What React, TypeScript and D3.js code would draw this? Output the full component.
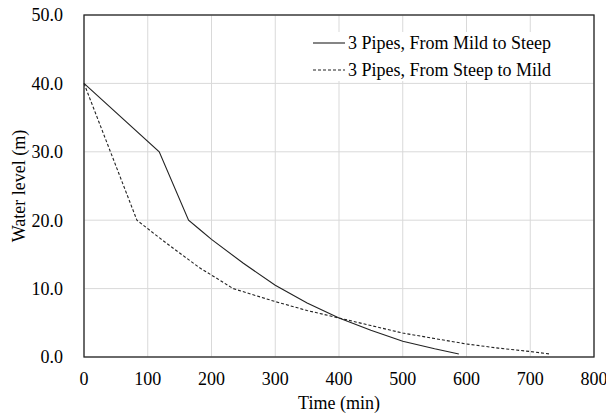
import React from 'react';
import * as d3 from 'd3';

// time (min) / water level (m)
const mildToSteepT = [0, 118, 164, 182, 200, 250, 300, 350, 400, 450, 500, 550, 588];
const mildToSteepH = [40, 30, 20, 18.6, 17.2, 13.7, 10.5, 7.9, 5.7, 3.9, 2.3, 1.2, 0.45];

const steepToMildT = [0, 83, 120, 150, 182, 210, 234, 300, 350, 400, 450, 500, 550, 600, 650, 700, 730];
const steepToMildH = [40, 20, 17.3, 15.2, 13.0, 11.4, 10, 8.1, 6.8, 5.7, 4.6, 3.5, 2.7, 1.9, 1.3, 0.8, 0.45];

const xTicks = [0, 100, 200, 300, 400, 500, 600, 700, 800];
const yTicks = [0, 10, 20, 30, 40, 50];

const seriesNames = ['3 Pipes, From Mild to Steep', '3 Pipes, From Steep to Mild'];

const W = 606;
const H = 416;
const margin = { top: 15, right: 12, bottom: 59, left: 84 };
const FONT = 'Times New Roman';
const txt = { fontFamily: `'${FONT}'`, fontSize: '18px' };

const x = d3.scaleLinear().domain([0, 800]).range([margin.left, W - margin.right]);
const y = d3.scaleLinear().domain([0, 50]).range([H - margin.bottom, margin.top]);

const line = d3.line<[number, number]>()
  .x((d) => x(d[0]))
  .y((d) => y(d[1]));

const Label = (props: any) => <text fontFamily={FONT} style={txt} {...props} />;

const App = () => {
  const series = [d3.zip(mildToSteepT, mildToSteepH), d3.zip(steepToMildT, steepToMildH)];
  return (
    <svg width={W} height={H} style={{ position: 'absolute', left: 0, top: 0, background: 'white' }}>
      {/* grid */}
      {xTicks.map((t) => (
        <line key={`gx${t}`} x1={x(t)} x2={x(t)} y1={y(0)} y2={y(50)} stroke="#d9d9d9" />
      ))}
      {yTicks.map((t) => (
        <line key={`gy${t}`} x1={x(0)} x2={x(800)} y1={y(t)} y2={y(t)} stroke="#d9d9d9" />
      ))}

      {/* tick labels */}
      {yTicks.map((t) => (
        <Label key={`ly${t}`} x={x(0) - 21} y={y(t)} dy="0.35em" textAnchor="end">
          {d3.format('.1f')(t)}
        </Label>
      ))}
      {xTicks.map((t) => (
        <Label key={`lx${t}`} x={x(t)} y={y(0) + 28} textAnchor="middle">
          {String(t)}
        </Label>
      ))}

      {/* axis titles */}
      <Label x={(x(0) + x(800)) / 2} y={y(0) + 52} textAnchor="middle">
        Time (min)
      </Label>
      <Label transform={`translate(24.5, ${(y(0) + y(50)) / 2}) rotate(-90)`} textAnchor="middle">
        Water level (m)
      </Label>

      {series.map((s, i) => (
        <path
          key={seriesNames[i]}
          d={line(s) || ''}
          fill="none"
          stroke="#222"
          strokeWidth={1.1}
          strokeDasharray={i === 1 ? '3,2' : undefined}
        />
      ))}

      {/* frame */}
      <rect
        x={x(0)}
        y={y(50)}
        width={x(800) - x(0)}
        height={y(0) - y(50)}
        fill="none"
        stroke="#262626"
        strokeWidth={1.3}
      />

      {/* legend */}
      <rect x={306} y={32} width={268} height={49} fill="white" />
      {seriesNames.map((name, i) => {
        const ly = 43 + i * 27;
        return (
          <g key={name}>
            <line
              x1={313}
              x2={345}
              y1={ly}
              y2={ly}
              stroke="#222"
              strokeWidth={1.1}
              strokeDasharray={i === 1 ? '3,2' : undefined}
            />
            <Label x={348} y={ly} dy="0.35em">
              {name}
            </Label>
          </g>
        );
      })}
    </svg>
  );
};

export default App;
